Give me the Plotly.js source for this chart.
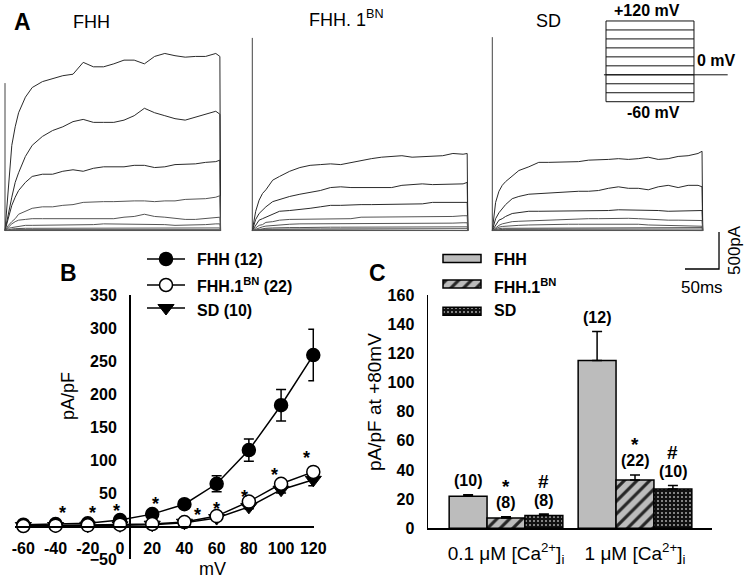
<!DOCTYPE html>
<html><head><meta charset="utf-8">
<script src="https://cdn.plot.ly/plotly-3.0.1.min.js"></script>
<style>html,body{margin:0;padding:0;background:#fff}#chart{width:750px;height:579px}</style>
</head><body><div id="chart"></div>
<script>
// ================= DATA =================
// Panel A: current traces (pA) sampled at these times (ms); last point = tail back to 0
const traceTime = [0,5,10,15,20,30,40,55,70,85,100,115,130,145,160,175,190,205,220,235,250,265,280,295,310,316,317];
const stepVoltages = [120,100,80,60,40,20,0,-20,-40,-60];
const fhhCurrents = [
  [0,610,1150,1400,1590,1800,1930,2010,2050,2090,2110,2270,2210,2210,2250,2300,2300,2250,2350,2390,2360,2340,2350,2350,2390,2350,0],
  [0,240,450,650,780,1000,1150,1270,1350,1400,1470,1500,1460,1460,1460,1490,1550,1650,1590,1550,1510,1490,1530,1580,1610,1570,0],
  [0,180,340,450,540,650,730,760,760,800,820,800,840,860,860,860,880,880,850,860,890,890,900,920,930,950,0],
  [0,70,120,160,220,260,300,320,320,340,350,380,390,390,390,400,400,400,390,400,400,420,420,430,450,470,0],
  [0,50,90,120,140,150,160,160,160,160,160,150,150,160,160,180,190,220,190,180,160,150,150,160,180,180,0],
  [0,30,40,50,50,70,70,70,70,70,70,70,80,90,90,80,80,80,80,80,70,70,80,80,90,90,0],
  [0,15,20,25,30,30,30,30,30,30,30,30,30,30,35,35,35,35,35,30,30,30,30,30,35,35,0],
  [0,8,10,12,12,12,12,12,12,12,12,12,12,12,12,12,12,12,12,12,12,12,12,12,12,12,0],
  [0,4,5,5,5,5,5,5,5,5,5,5,5,5,5,5,5,5,5,5,5,5,5,5,5,5,0],
  [0,0,0,0,0,0,0,0,0,0,0,0,0,0,0,0,0,0,0,0,0,0,0,0,0,0,0]
];
const fhh1bnCurrents = [
  [0,260,410,500,550,680,730,800,850,880,890,900,890,920,950,970,990,1000,1010,990,1000,1000,1010,1040,1030,1040,0],
  [0,150,230,280,320,390,420,460,490,510,540,580,590,580,580,580,590,580,610,620,630,620,620,620,630,650,0],
  [0,80,140,160,180,230,260,270,280,300,320,340,340,350,350,350,350,360,360,360,360,380,380,380,380,380,0],
  [0,40,70,80,110,120,140,150,150,160,160,160,160,160,180,180,180,180,180,180,180,190,190,190,200,200,0],
  [0,20,40,50,60,70,80,85,90,90,90,95,100,100,100,95,95,95,100,100,100,100,100,100,105,105,0],
  [0,10,20,25,30,35,40,40,40,45,45,45,45,45,45,45,45,45,45,45,45,45,45,45,50,50,0],
  [0,8,12,15,18,20,22,22,22,22,22,22,22,22,22,22,22,22,22,22,22,22,22,22,25,25,0],
  [0,5,8,10,10,10,10,10,10,10,10,10,10,10,10,10,10,10,10,10,10,10,10,10,10,10,0],
  [0,3,4,4,4,4,4,4,4,4,4,4,4,4,4,4,4,4,4,4,4,4,4,4,4,4,0],
  [0,0,0,0,0,0,0,0,0,0,0,0,0,0,0,0,0,0,0,0,0,0,0,0,0,0,0]
];
const sdCurrents = [
  [0,380,530,610,660,740,810,860,920,920,920,930,930,950,950,960,970,960,970,990,960,970,1000,1010,1040,1070,0],
  [0,160,240,300,350,430,460,490,500,510,510,530,530,530,540,570,590,570,570,550,590,610,580,610,610,590,0],
  [0,80,140,160,190,230,240,260,260,260,260,270,270,270,260,270,280,280,280,270,270,260,260,270,270,270,0],
  [0,40,70,90,100,120,125,130,140,145,150,150,155,160,160,165,170,165,160,150,140,140,140,140,140,135,0],
  [0,25,45,55,60,65,70,75,80,80,80,85,85,85,85,88,90,90,85,75,70,65,60,60,60,58,0],
  [0,15,25,30,30,35,35,35,40,40,40,40,40,40,40,40,40,40,40,40,40,40,40,40,40,40,0],
  [0,8,12,15,18,20,20,20,20,20,20,20,20,20,20,20,20,20,20,20,20,20,20,20,20,20,0],
  [0,5,8,10,10,10,10,10,10,10,10,10,10,10,10,10,10,10,10,10,10,10,10,10,10,10,0],
  [0,3,4,4,4,4,4,4,4,4,4,4,4,4,4,4,4,4,4,4,4,4,4,4,4,4,0],
  [0,0,0,0,0,0,0,0,0,0,0,0,0,0,0,0,0,0,0,0,0,0,0,0,0,0,0]
];
const transientPeak = [1990, 2600, 2610];   // capacitive transient height per panel (pA)
const panelTitles = ['FHH', 'FHH. 1<sup>BN</sup>', 'SD'];

// Voltage protocol (mV, ms)
const stepLevels = [-60,-40,-20,0,20,40,60,80,100,120];
const stepStart = 0, stepEnd = 300;
const holdLevel = 0, holdStart = -7, holdEnd = 415;

// Scale bar
const scaleTime = 50;      // ms
const scaleCurrent = 500;  // pA

// Panel B: I-V relation (pA/pF)
const mV = [-60,-40,-20,0,20,40,60,80,100,120];
const fhhIV = [2,3,4,9,18,33,64,115,183,259];
const fhhIVErr = [1,1,1.5,2,3,5,12,17,24,39];
const fhh1bnIV = [0,0.5,1,2,3,6,15,37,64,82];
const fhh1bnIVErr = [0.5,0.5,0.5,1,1,1.5,3,4,5,5];
const sdIV = [0,0,0.5,1,2,5,12,29,55,70];
const sdIVErr = [0.5,0.5,0.5,0.5,1,1,2,3,5,9];
const ivNames = ['FHH (12)', 'FHH.1<sup>BN</sup> (22)', 'SD (10)'];
const sigStarX = [-36,-17,-2,22,48,60,77,96,116];
const sigStarY = [20,20,23,34,17,26,44,78,103];

// Panel C: pA/pF at +80 mV
const caLabels = ['0.1 μM [Ca<sup>2+</sup>]<sub>i</sub>', '1 μM [Ca<sup>2+</sup>]<sub>i</sub>'];
const barNames = ['FHH', 'FHH.1<sup>BN</sup>', 'SD'];
const fhhBar = [22, 115];
const fhhBarErr = [1, 20];
const fhh1bnBar = [7, 33.2];
const fhh1bnBarErr = [1, 3.4];
const sdBar = [8.7, 27];
const sdBarErr = [1.1, 2.3];
const fhhN = [10, 12];
const fhh1bnN = [8, 22];
const sdN = [8, 10];
const barSig = ['', '*', '#'];

// ================= DRAW =================
const W = 750, H = 579;
const px = v => v / W;
const py = v => 1 - v / H;
const FONT = 'Liberation Sans, Arial, sans-serif';
const traces = [];
const annotations = [];

function ann(text, x, y, size, opts) {
  annotations.push(Object.assign({
    text: text, x: px(x), y: py(y), xref: 'paper', yref: 'paper',
    showarrow: false, xanchor: 'center', yanchor: 'middle',
    font: {family: FONT, size: size, color: '#000'}
  }, opts || {}));
}

// ---- Panel A traces ----
[[fhhCurrents,'x'],[fhh1bnCurrents,'x2'],[sdCurrents,'x3']].forEach(([cur, xa], p) => {
  cur.forEach((vals, i) => {
    traces.push({x: traceTime, y: vals, xaxis: xa, yaxis: 'y', mode: 'lines',
      line: {color: i < 3 ? '#2a2a2a' : '#555', width: 1}, hoverinfo: 'skip'});
  });
  traces.push({x: [0, 0], y: [0, transientPeak[p]], xaxis: xa, yaxis: 'y', mode: 'lines',
    line: {color: '#444', width: 1}, hoverinfo: 'skip'});
});

// ---- Protocol ----
stepLevels.forEach(v => traces.push({x: [stepStart, stepEnd], y: [v, v], xaxis: 'x4', yaxis: 'y4',
  mode: 'lines', line: {color: '#111', width: 1}, hoverinfo: 'skip'}));
[stepStart, stepEnd].forEach(t => traces.push({x: [t, t], y: [Math.min(...stepLevels), Math.max(...stepLevels)],
  xaxis: 'x4', yaxis: 'y4', mode: 'lines', line: {color: '#111', width: 1}, hoverinfo: 'skip'}));
traces.push({x: [holdStart, holdEnd], y: [holdLevel, holdLevel], xaxis: 'x4', yaxis: 'y4',
  mode: 'lines', line: {color: '#111', width: 1}, hoverinfo: 'skip'});

// ---- Scale bar ----
traces.push({x: [0, scaleTime, scaleTime], y: [0, 0, scaleCurrent], xaxis: 'x5', yaxis: 'y5',
  mode: 'lines', line: {color: '#000', width: 1.3}, hoverinfo: 'skip'});

// ---- Panel B ----
const ivStyles = [
  {symbol: 'circle', color: '#000', size: 13, line: {color: '#000', width: 1.5}},
  {symbol: 'circle', color: '#fff', size: 13, line: {color: '#000', width: 1.5}},
  {symbol: 'triangle-down', color: '#000', size: 14, line: {color: '#000', width: 1}}
];
const ivSeries = [[fhhIV, fhhIVErr, 0], [sdIV, sdIVErr, 2], [fhh1bnIV, fhh1bnIVErr, 1]];
ivSeries.forEach(([vals, err, s]) => {
  traces.push({x: mV, y: vals, xaxis: 'x6', yaxis: 'y6', mode: 'lines+markers',
    line: {color: '#000', width: 1.5}, marker: ivStyles[s], cliponaxis: false,
    error_y: {type: 'data', array: err, visible: true, color: '#000', thickness: 1.5, width: 5},
    hoverinfo: 'skip'});
});
sigStarX.forEach((x, i) => annotations.push({text: '<b>*</b>', x: x, y: sigStarY[i], xref: 'x6', yref: 'y6',
  showarrow: false, font: {family: FONT, size: 18, color: '#000'}}));

// Legend B
const legRowsB = [259, 285, 308];
ivStyles.forEach((st, i) => {
  traces.push({x: [0, 0.5, 1], y: [legRowsB[i], legRowsB[i], legRowsB[i]], xaxis: 'x8', yaxis: 'y8',
    mode: 'lines+markers', line: {color: '#000', width: 1.5},
    marker: Object.assign({}, st, {opacity: [0, 1, 0]}), cliponaxis: false, hoverinfo: 'skip'});
  ann('<b>' + ivNames[i] + '</b>', 195, [259, 285, 310][i], 16, {xanchor: 'left'});
});

// ---- Panel C ----
const barStyles = [
  {color: '#bcbcbc', line: {color: '#000', width: 1.5}},
  {color: '#bcbcbc', line: {color: '#000', width: 1.5},
   pattern: {shape: '/', fgcolor: '#262626', bgcolor: '#bcbcbc', size: 9, solidity: 0.35}},
  {color: '#111', line: {color: '#000', width: 1.5},
   pattern: {shape: '.', fgcolor: '#a8a8a8', bgcolor: '#111', size: 4, solidity: 0.2}}
];
const barSeries = [[fhhBar, fhhBarErr, fhhN], [fhh1bnBar, fhh1bnBarErr, fhh1bnN], [sdBar, sdBarErr, sdN]];
const BARGAP = 0.1186;
const bw = (1 - BARGAP) / 3;
barSeries.forEach(([vals, err, n], s) => {
  traces.push({type: 'bar', x: caLabels, y: vals, xaxis: 'x7', yaxis: 'y7', marker: barStyles[s],
    error_y: {type: 'data', symmetric: false, array: err, arrayminus: err.map(() => 0), visible: true,
      color: '#000', thickness: 1.5, width: 5}, hoverinfo: 'skip'});
  vals.forEach((v, g) => {
    const xpos = g + (s - 1) * bw;
    annotations.push({text: '<b>(' + n[g] + ')</b>', x: xpos, y: v + err[g], xref: 'x7', yref: 'y7',
      yshift: 14, showarrow: false, font: {family: FONT, size: 16, color: '#000'}});
    if (barSig[s]) annotations.push({text: '<b>' + barSig[s] + '</b>', x: xpos, y: v + err[g], xref: 'x7', yref: 'y7',
      yshift: barSig[s] === '*' ? 30 : 33, showarrow: false, font: {family: FONT, size: 19, color: '#000'}});
  });
});
// Legend C
const legRowsC = [258.5, 284, 311.3];
barStyles.forEach((st, i) => {
  traces.push({type: 'bar', orientation: 'h', x: [1], y: [legRowsC[i]], base: 0, width: 8, offset: -4,
    xaxis: 'x9', yaxis: 'y8', marker: st, hoverinfo: 'skip'});
  ann('<b>' + barNames[i] + '</b>', 492, [259, 286, 311][i], 16, {xanchor: 'left'});
});

// ---- Text ----
ann('<b>A</b>', 22, 22, 23);
ann(panelTitles[0], 91, 22, 18);
ann(panelTitles[1], 346, 19, 18);
ann(panelTitles[2], 548, 21, 18);
ann('<b>+120 mV</b>', 647, 10, 16);
ann('<b>0 mV</b>', 716, 60, 16);
ann('<b>-60 mV</b>', 653, 113, 16);
ann('500pA', 734, 250, 17, {textangle: -90});
ann('50ms', 702, 287, 17);
ann('<b>B</b>', 68, 273, 23);
ann('pA/pF', 68, 396, 18, {textangle: -90});
ann('mV', 212, 569, 18);
ann('<b>C</b>', 377, 273, 23);
ann('pA/pF at +80mV', 374, 402, 19, {textangle: -90});

// ================= LAYOUT =================
const hidden = {visible: false, showgrid: false, zeroline: false, fixedrange: true};
const tickFont = {family: FONT, size: 16, color: '#000', weight: 'bold'};
const layout = {
  width: W, height: H, margin: {l: 0, r: 0, t: 0, b: 0},
  paper_bgcolor: '#fff', plot_bgcolor: 'rgba(0,0,0,0)', showlegend: false,
  font: {family: FONT, color: '#000'},
  barmode: 'group', bargap: BARGAP, bargroupgap: 0,
  xaxis: Object.assign({}, hidden, {domain: [px(3.64), px(222.6)], range: [-2, 320], anchor: 'y'}),
  xaxis2: Object.assign({}, hidden, {domain: [px(250.94), px(469.9)], range: [-2, 320], anchor: 'y'}),
  xaxis3: Object.assign({}, hidden, {domain: [px(490.97), px(704.7)], range: [-2, 320], anchor: 'y'}),
  yaxis: Object.assign({}, hidden, {domain: [py(233.5), py(34.2)], range: [-40, 2650], anchor: 'x'}),
  xaxis4: Object.assign({}, hidden, {domain: [px(603.07), px(732.1)], range: [-10, 430], anchor: 'y4'}),
  yaxis4: Object.assign({}, hidden, {domain: [py(106.2), py(16.5)], range: [-70, 130], anchor: 'x4'}),
  xaxis5: Object.assign({}, hidden, {domain: [px(680), px(725)], range: [-7.35, 58.8], anchor: 'y5'}),
  yaxis5: Object.assign({}, hidden, {domain: [py(273), py(228)], range: [-54, 553.5], anchor: 'x5'}),
  xaxis6: {domain: [px(15.3), px(314.1)], range: [-65, 120.5], anchor: 'free', position: py(526),
    showline: true, linecolor: '#000', linewidth: 1.5, ticks: '', tickvals: mV, ticktext: mV.map(String),
    tickfont: tickFont, ticklabelstandoff: 7, showgrid: false, zeroline: false, fixedrange: true},
  yaxis6: {domain: [py(559), py(295)], range: [-50, 350], anchor: 'free', position: px(129),
    showline: true, linecolor: '#000', linewidth: 1.5, ticks: '',
    tickvals: [-50, 50, 100, 150, 200, 250, 300, 350], tickfont: tickFont, ticklabelstandoff: 9,
    showgrid: false, zeroline: false, fixedrange: true},
  xaxis7: {type: 'category', domain: [px(428), px(712)], range: [-0.6047, 1.5969], anchor: 'y7',
    showline: true, linecolor: '#000', linewidth: 1.2, ticks: '',
    tickfont: {family: FONT, size: 19, color: '#000'}, ticklabelstandoff: 8,
    showgrid: false, zeroline: false, fixedrange: true},
  yaxis7: {domain: [py(528.3), py(295)], range: [0, 160], anchor: 'x7', showline: true, linecolor: '#000',
    linewidth: 1.5, ticks: '', tickvals: [0, 20, 40, 60, 80, 100, 120, 140, 160], tickfont: tickFont,
    ticklabelstandoff: 9, showgrid: false, zeroline: false, fixedrange: true},
  xaxis8: Object.assign({}, hidden, {domain: [px(140), px(192)], range: [-0.184, 1.184], anchor: 'y8'}),
  yaxis8: Object.assign({}, hidden, {domain: [py(320), py(250)], range: [320, 250], anchor: 'x8'}),
  xaxis9: Object.assign({}, hidden, {domain: [px(438), px(486)], range: [-0.1316, 1.1316], anchor: 'y8'}),
  annotations: annotations
};
Plotly.newPlot('chart', traces, layout, {staticPlot: true, displayModeBar: false});
</script></body></html>
